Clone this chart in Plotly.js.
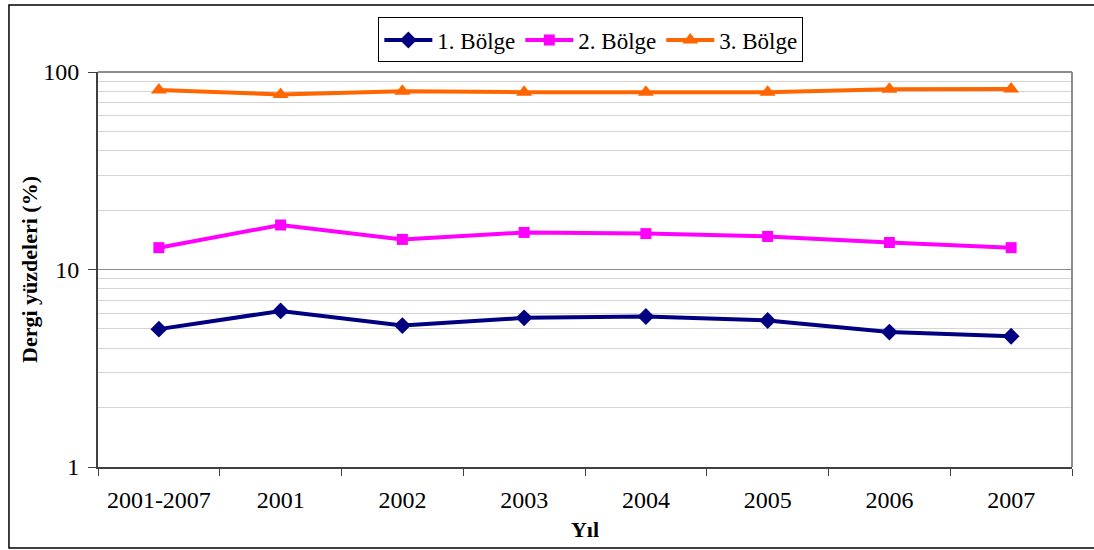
<!DOCTYPE html>
<html>
<head>
<meta charset="utf-8">
<script src="https://cdn.plot.ly/plotly-3.0.1.min.js"></script>
<style>
  html, body { margin: 0; padding: 0; background: #fff; }
  #chart { width: 1094px; height: 550px; }
</style>
</head>
<body>
<div id="chart"></div>
<script>
const categories = ["2001-2007", "2001", "2002", "2003", "2004", "2005", "2006", "2007"];
const bolge1 = [4.99, 6.17, 5.2, 5.69, 5.78, 5.52, 4.82, 4.59];
const bolge2 = [12.9, 16.8, 14.2, 15.4, 15.2, 14.7, 13.7, 12.9];
const bolge3 = [81, 77, 80, 79, 79, 79, 81.7, 82];
const seriesNames = ["1. Bölge", "2. Bölge", "3. Bölge"];
const yTickVals = [1, 10, 100];
const yTickText = ["1", "10", "100"];

const serif = "Liberation Serif, Times New Roman, serif";

const traces = [
  { x: categories, y: bolge1, name: seriesNames[0], type: "scatter", mode: "lines+markers",
    line: { color: "#000080", width: 4 }, marker: { symbol: "diamond", size: 13, color: "#000080" } },
  { x: categories, y: bolge2, name: seriesNames[1], type: "scatter", mode: "lines+markers",
    line: { color: "#FF00FF", width: 4 }, marker: { symbol: "square", size: 11, color: "#FF00FF" } },
  { x: categories, y: bolge3, name: seriesNames[2], type: "scatter", mode: "lines+markers",
    line: { color: "#FF6600", width: 4 }, marker: { symbol: "triangle-up", size: 14, color: "#FF6600" } }
];

const layout = {
  width: 1094, height: 550,
  margin: { l: 98, r: 22, t: 72, b: 83 },
  paper_bgcolor: "#ffffff", plot_bgcolor: "#ffffff",
  font: { family: serif, size: 22, color: "#000" },
  showlegend: true,
  legend: {
    orientation: "h", x: 0.506, xanchor: "center", y: 1.138, yanchor: "top",
    bordercolor: "#000", borderwidth: 1, bgcolor: "#fff",
    font: { family: serif, size: 23, color: "#000" },
    itemwidth: 48, tracegroupgap: 0
  },
  xaxis: {
    type: "category",
    showline: true, linecolor: "#404040", linewidth: 2, mirror: false,
    ticks: "outside", ticklen: 7, tickcolor: "#404040", tickwidth: 1,
    tickson: "boundaries",
    showgrid: false, zeroline: false,
    tickfont: { family: serif, size: 24, color: "#000" },
    ticklabelstandoff: 10,
    title: { text: "<b>Yıl</b>", font: { family: serif, size: 22, color: "#000" }, standoff: 10 },
    range: [-0.5, 7.5]
  },
  yaxis: {
    type: "log", range: [0, 2],
    tickvals: yTickVals, ticktext: yTickText,
    showline: true, linecolor: "#404040", linewidth: 2,
    ticks: "outside", ticklen: 8, tickcolor: "#404040",
    showgrid: true, gridcolor: "#8c8c8c", gridwidth: 1,
    zeroline: false,
    minor: { dtick: "D1", showgrid: true, gridcolor: "#d4d4d4", gridwidth: 1, ticks: "" },
    tickfont: { family: serif, size: 24, color: "#000" },
    ticklabelstandoff: 4,
    title: { text: "<b>Dergi yüzdeleri (%)</b>", font: { family: serif, size: 22, color: "#000" }, standoff: 0 }
  },
  shapes: [
    { type: "line", xref: "paper", yref: "paper", x0: 0, x1: 1, y0: 1, y1: 1,
      line: { color: "#8c8c8c", width: 2 } },
    { type: "line", xref: "paper", yref: "paper", x0: 1, x1: 1, y0: 0, y1: 1,
      line: { color: "#8c8c8c", width: 2 } },
    { type: "rect", xref: "paper", yref: "paper", x0: -0.0914, x1: 1.1, y0: -0.205, y1: 1.1696,
      line: { color: "#000", width: 1.5 }, fillcolor: "rgba(0,0,0,0)", layer: "above" }
  ]
};

Plotly.newPlot("chart", traces, layout, { displayModeBar: false, staticPlot: true });
</script>
</body>
</html>
